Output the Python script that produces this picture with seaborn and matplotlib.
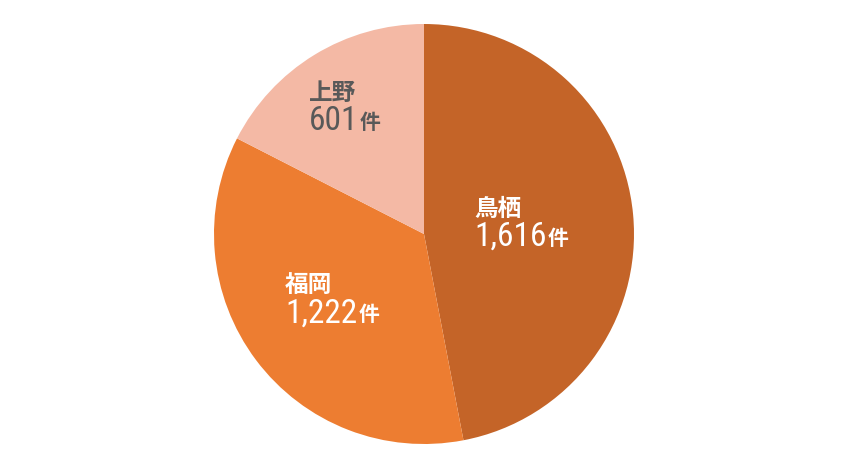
import numpy as np
import matplotlib
matplotlib.use('Agg')
import matplotlib.pyplot as plt
from matplotlib import font_manager
import seaborn as sns

# data
places = ['鳥栖', '福岡', '上野']
counts = [1616, 1222, 601]
unit = '件'

colors = ['#C46428', '#ED7D31', '#F4B9A5']
text_colors = ['white', 'white', '#595959']
label_r = [0.48, 0.53, 0.70]

sns.set_theme(style='white')
plt.rcParams['font.family'] = ['Noto Sans CJK JP', 'DejaVu Sans']

installed = {f.name for f in font_manager.fontManager.ttflist}
narrow = [f for f in ['Liberation Sans Narrow', 'Roboto Condensed', 'Open Sans Condensed']
          if f in installed]
num_family = narrow[0] if narrow else 'Noto Sans CJK JP'
num_size = 24 if narrow else 21

fig = plt.figure(figsize=(8.48, 4.68), dpi=100)
ax = fig.add_axes([(424 - 210) / 848, (468 - 444) / 468, 420 / 848, 420 / 468])

wedges, _ = ax.pie(counts, colors=colors, startangle=90, counterclock=False,
                   radius=1.0, wedgeprops=dict(linewidth=0))
ax.set_xlim(-1, 1)
ax.set_ylim(-1, 1)
ax.set_aspect('equal')
ax.axis('off')

for w, name, n, c, r in zip(wedges, places, counts, text_colors, label_r):
    mid = np.deg2rad((w.theta1 + w.theta2) / 2)
    x, y = r * np.cos(mid), r * np.sin(mid)
    t_num = ax.annotate(f'{n:,}', xy=(x, y), xytext=(-10, -9), textcoords='offset points',
                        ha='center', va='center', color=c, fontsize=num_size,
                        fontweight='normal', family=[num_family, 'Noto Sans CJK JP'])
    ax.annotate(unit, xy=(1, 0), xycoords=t_num, xytext=(1, 3), textcoords='offset points',
                ha='left', va='bottom', color=c, fontsize=15, fontweight='bold')
    ax.annotate(name, xy=(0, 1), xycoords=t_num, xytext=(0, 0), textcoords='offset points',
                ha='left', va='bottom', color=c, fontsize=17, fontweight='bold')

plt.savefig('out.png', dpi=100)
plt.close()
